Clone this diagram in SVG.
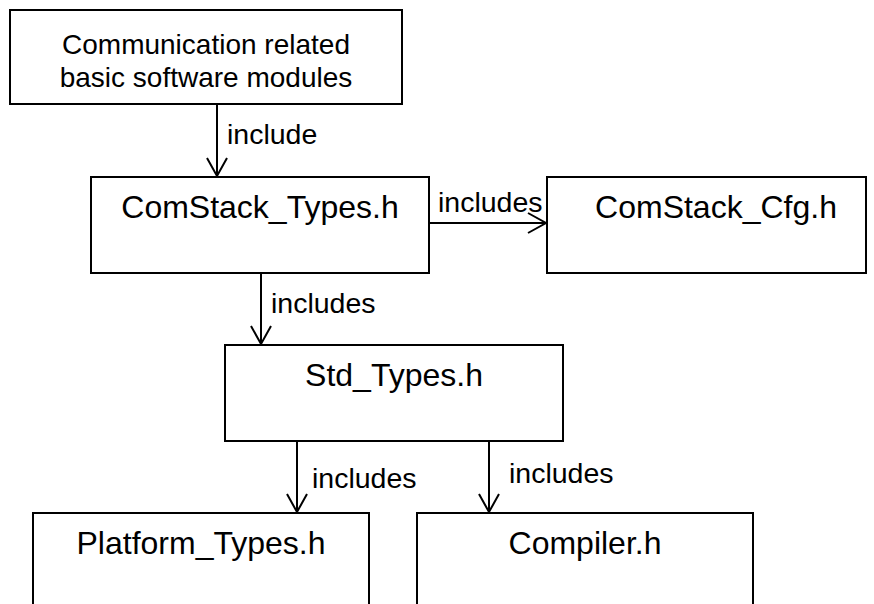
<svg xmlns="http://www.w3.org/2000/svg" width="874" height="604" viewBox="0 0 874 604">
<style>
.box{fill:#fff;stroke:#000;stroke-width:2}
.t{font-family:"Liberation Sans",Arial,sans-serif;font-size:32px;fill:#000;text-anchor:middle}
.t1{font-family:"Liberation Sans",Arial,sans-serif;font-size:28px;fill:#000;text-anchor:middle}
.l{font-family:"Liberation Sans",Arial,sans-serif;font-size:28.5px;fill:#000}
.c{stroke:#000;stroke-width:2;fill:none}
</style>
<defs>
<marker id="ah" markerUnits="userSpaceOnUse" markerWidth="24" markerHeight="24" viewBox="-20 -12 22 24" refX="0" refY="0" orient="auto">
<path d="M-18,-10 L0,0 L-18,10" fill="none" stroke="#000" stroke-width="2"/>
</marker>
</defs>
<rect width="874" height="604" fill="#fff"/>
<g id="n1"><rect class="box" x="10" y="10" width="392" height="94"/><text class="t1" x="206" y="54">Communication related</text><text class="t1" x="206" y="87">basic software modules</text></g>
<g id="n2"><rect class="box" x="91" y="177" width="338" height="96"/><text class="t" x="260" y="218">ComStack_Types.h</text></g>
<g id="n3"><rect class="box" x="547" y="177" width="319" height="96"/><text class="t" x="716" y="218">ComStack_Cfg.h</text></g>
<g id="n4"><rect class="box" x="225" y="345" width="338" height="96"/><text class="t" x="394" y="386">Std_Types.h</text></g>
<g id="n5"><rect class="box" x="33" y="513" width="336" height="100"/><text class="t" x="201" y="554">Platform_Types.h</text></g>
<g id="n6"><rect class="box" x="417" y="513" width="336" height="100"/><text class="t" x="585" y="554">Compiler.h</text></g>
<g id="connectors">
<line class="c" x1="217" y1="104" x2="217" y2="176" marker-end="url(#ah)"/>
<text class="l" x="227" y="144">include</text>
<line class="c" x1="429" y1="223" x2="546" y2="223" marker-end="url(#ah)"/>
<text class="l" x="438" y="212">includes</text>
<line class="c" x1="261" y1="273" x2="261" y2="344" marker-end="url(#ah)"/>
<text class="l" x="271" y="313">includes</text>
<line class="c" x1="297" y1="441" x2="297" y2="512" marker-end="url(#ah)"/>
<text class="l" x="312" y="488">includes</text>
<line class="c" x1="489" y1="441" x2="489" y2="512" marker-end="url(#ah)"/>
<text class="l" x="509" y="483">includes</text>
</g>
</svg>
